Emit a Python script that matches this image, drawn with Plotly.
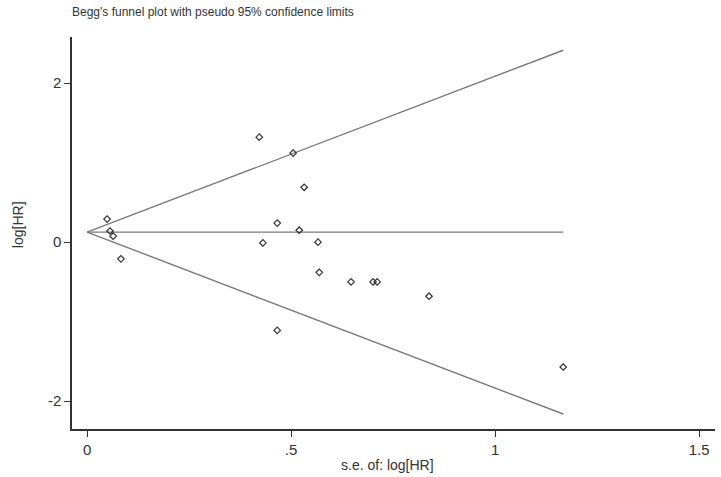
import plotly.graph_objects as go

# Study data: standard error of log[HR] and log[HR]
se_loghr = [0.422, 0.505, 0.532, 0.049, 0.466, 0.056, 0.520, 0.064, 0.431,
            0.566, 0.083, 0.569, 0.647, 0.701, 0.711, 0.838, 0.466, 1.167]
loghr = [1.32, 1.12, 0.69, 0.29, 0.24, 0.14, 0.15, 0.075, -0.01,
         0.00, -0.21, -0.38, -0.50, -0.50, -0.50, -0.68, -1.11, -1.57]

pooled = 0.126
se_max = 1.167
funnel_x = [0, se_max]

x_tickvals = [0, 0.5, 1, 1.5]
x_ticktext = ["0", ".5", "1", "1.5"]
y_tickvals = [-2, 0, 2]
y_ticktext = ["-2", "0", "2"]

title_text = "Begg's funnel plot with pseudo 95% confidence limits"
x_title = "s.e. of: log[HR]"
y_title = "log[HR]"

line_style = dict(color="#7a7a7a", width=1.4)

fig = go.Figure()
fig.add_trace(go.Scatter(x=funnel_x, y=[pooled, pooled + 1.96 * se_max], mode="lines",
                         line=line_style, showlegend=False, hoverinfo="skip"))
fig.add_trace(go.Scatter(x=funnel_x, y=[pooled, pooled - 1.96 * se_max], mode="lines",
                         line=line_style, showlegend=False, hoverinfo="skip"))
fig.add_trace(go.Scatter(x=funnel_x, y=[pooled, pooled], mode="lines",
                         line=line_style, showlegend=False, hoverinfo="skip"))
fig.add_trace(go.Scatter(x=se_loghr, y=loghr, mode="markers",
                         marker=dict(symbol="diamond-open", size=5,
                                     color="#333333", line=dict(width=1.2, color="#333333")),
                         showlegend=False))

font_family = "Liberation Sans, Arial, sans-serif"

fig.update_layout(
    width=721, height=477,
    margin=dict(l=72, r=6, t=37, b=48, autoexpand=False),
    paper_bgcolor="white", plot_bgcolor="white",
    font=dict(family=font_family, color="#333333", size=15),
    xaxis=dict(range=[-0.037, 1.539], tickvals=x_tickvals, ticktext=x_ticktext,
               showgrid=False, zeroline=False, showline=True, linecolor="#333333",
               linewidth=1.5, ticks="outside", ticklen=6, tickcolor="#333333",
               tickwidth=1.2, automargin=False),
    yaxis=dict(range=[-2.35, 2.58], tickvals=y_tickvals, ticktext=y_ticktext,
               showgrid=False, zeroline=False, showline=True, linecolor="#333333",
               linewidth=1.5, ticks="outside", ticklen=6, tickcolor="#333333",
               tickwidth=1.2, automargin=False),
    annotations=[
        dict(text=title_text, xref="paper", yref="paper", x=-2 / 643, y=1 + 25 / 392,
             xanchor="left", yanchor="middle", showarrow=False,
             font=dict(size=12, color="#333333")),
        dict(text=x_title, xref="paper", yref="paper", x=0.49, y=-36 / 392,
             xanchor="center", yanchor="middle", showarrow=False,
             font=dict(size=14, color="#333333")),
        dict(text=y_title, xref="paper", yref="paper", x=-54 / 643, y=0.52,
             xanchor="center", yanchor="middle", showarrow=False, textangle=-90,
             font=dict(size=14, color="#333333")),
    ],
)

# remove the browser's default 8px body margin so the figure fills the window
fig.write_html("out.html", config={"displayModeBar": False},
               post_script="document.body.style.margin='0px';")
